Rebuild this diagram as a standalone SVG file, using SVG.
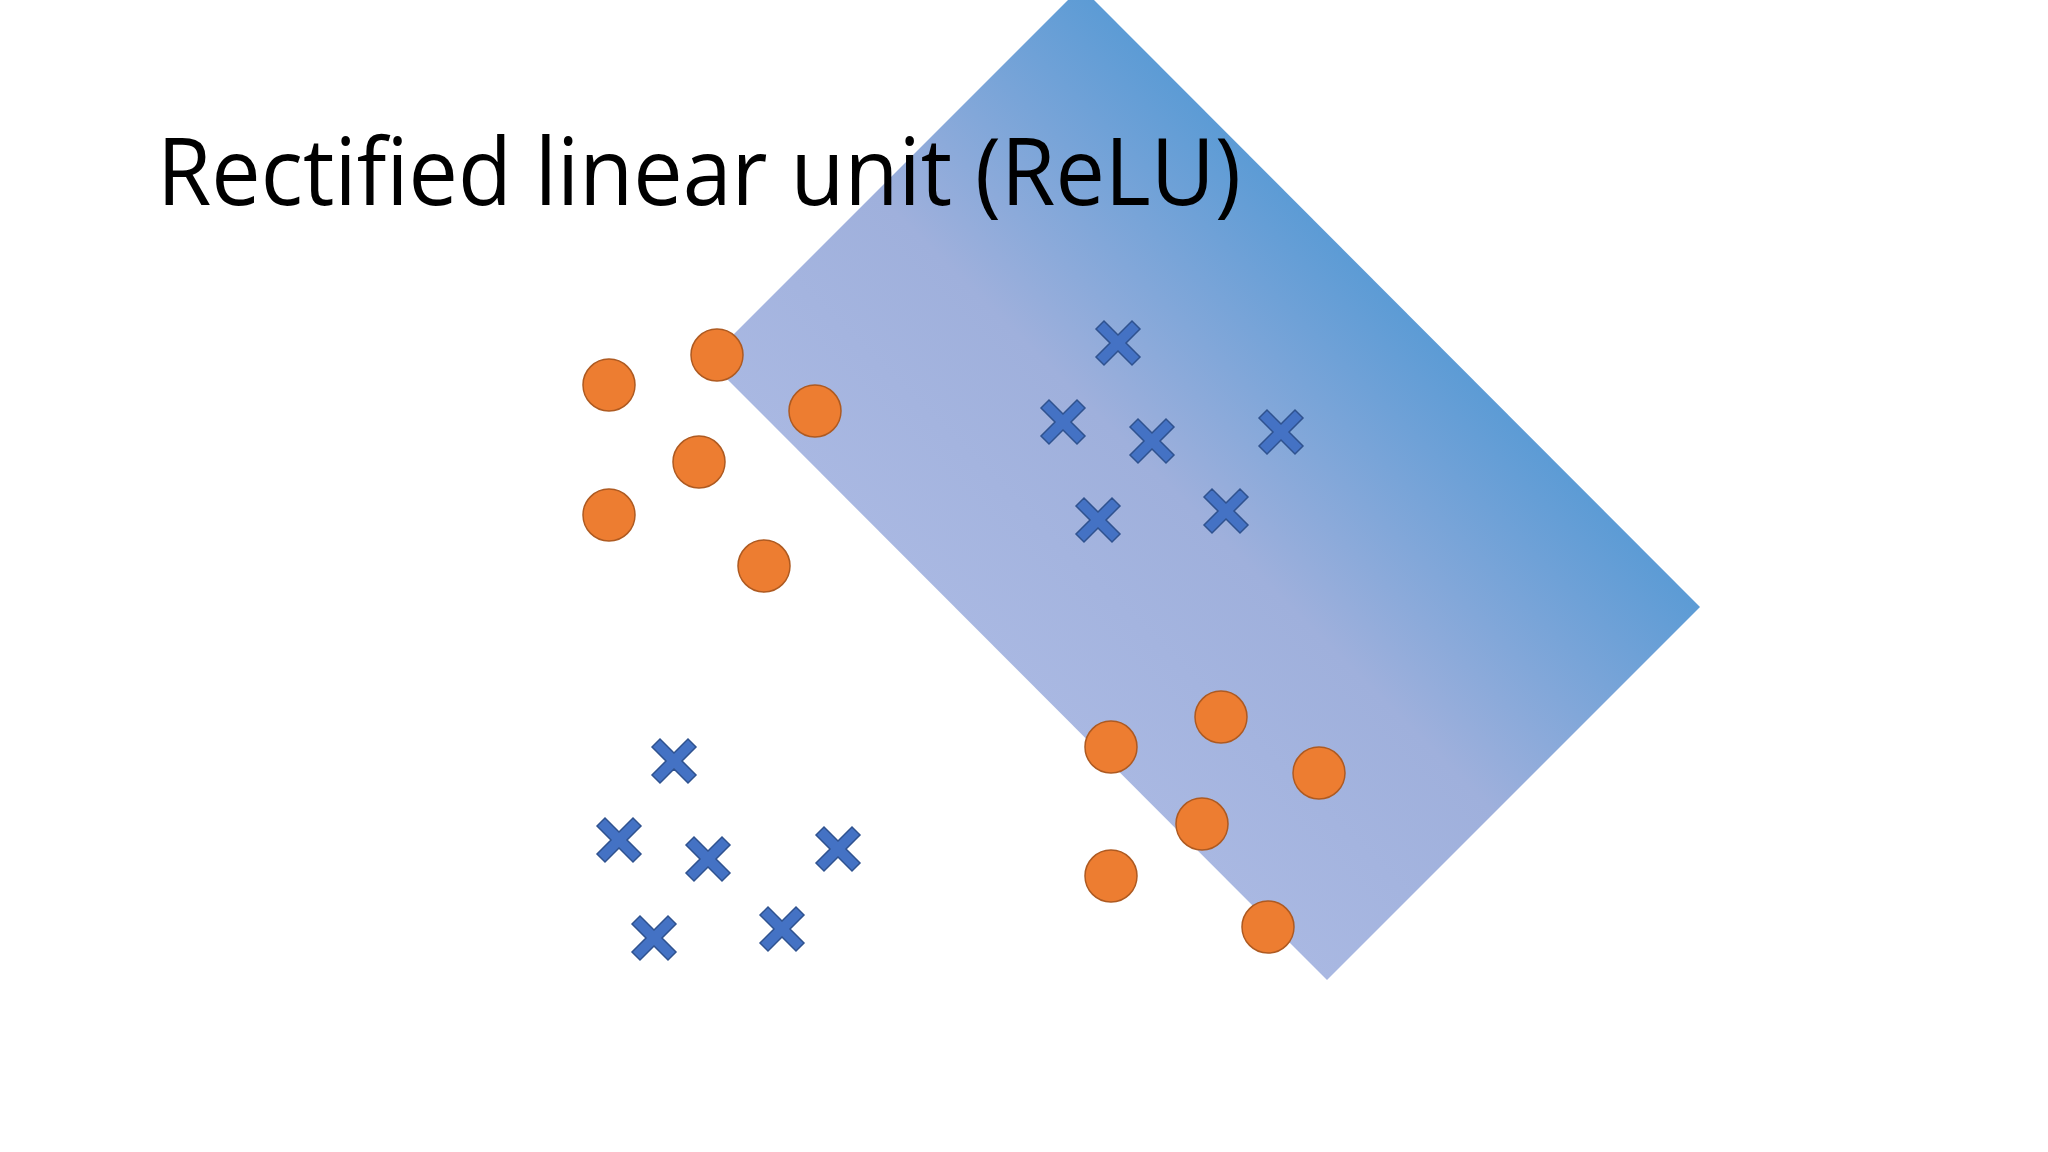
<svg xmlns="http://www.w3.org/2000/svg" width="2048" height="1152" viewBox="0 0 2048 1152">
<defs>
<linearGradient id="g" gradientUnits="userSpaceOnUse" x1="1100" y1="760" x2="1480" y2="380">
<stop offset="0" stop-color="#a9b8e2"/>
<stop offset="0.45" stop-color="#9fb0dc"/>
<stop offset="1" stop-color="#5b9bd5"/>
</linearGradient>
<polygon id="x" points="-22,-14 -14,-22 0,-8 14,-22 22,-14 8,0 22,14 14,22 0,8 -14,22 -22,14 -8,0"/>
</defs>
<style>
.c{fill:#ed7d31;stroke:#ae5a21;stroke-width:1.5}
.x{fill:#4472c4;stroke:#2f528f;stroke-width:1.5}
.t{font-family:"Open Sans","Noto Sans",sans-serif;font-size:94px;fill:#000}
</style>
<rect width="2048" height="1152" fill="#fff"/>
<polygon id="region" points="1068,0 1094,0 1700,607 1327,980 708,360" fill="url(#g)"/>
<text class="t" x="157" y="205" textLength="1084" lengthAdjust="spacingAndGlyphs">Rectified linear unit (ReLU)</text>
<g id="circles">
<circle class="c" cx="609" cy="385" r="26"/><circle class="c" cx="717" cy="355" r="26"/>
<circle class="c" cx="815" cy="411" r="26"/><circle class="c" cx="699" cy="462" r="26"/>
<circle class="c" cx="609" cy="515" r="26"/><circle class="c" cx="764" cy="566" r="26"/>
<circle class="c" cx="1221" cy="717" r="26"/><circle class="c" cx="1111" cy="747" r="26"/>
<circle class="c" cx="1319" cy="773" r="26"/><circle class="c" cx="1202" cy="824" r="26"/>
<circle class="c" cx="1111" cy="876" r="26"/><circle class="c" cx="1268" cy="927" r="26"/>
</g>
<g id="crosses">
<use href="#x" class="x" x="1118" y="343"/><use href="#x" class="x" x="1063" y="422"/>
<use href="#x" class="x" x="1152" y="441"/><use href="#x" class="x" x="1281" y="432"/>
<use href="#x" class="x" x="1098" y="520"/><use href="#x" class="x" x="1226" y="511"/>
<use href="#x" class="x" x="674" y="761"/><use href="#x" class="x" x="619" y="840"/>
<use href="#x" class="x" x="708" y="859"/><use href="#x" class="x" x="838" y="849"/>
<use href="#x" class="x" x="654" y="938"/><use href="#x" class="x" x="782" y="929"/>
</g>
</svg>
